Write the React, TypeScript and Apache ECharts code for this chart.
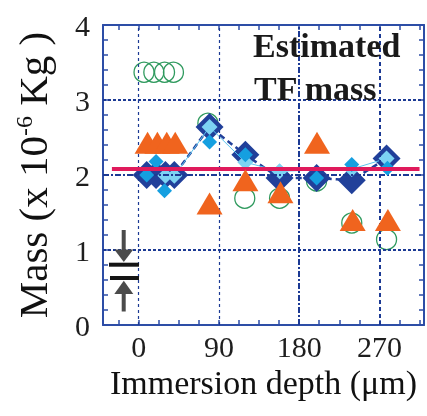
import React, { useEffect, useRef } from "react";
import * as echarts from "echarts";

// ---- data ----
const xTickValues = [-22.5, 0, 22.5, 45, 67.5, 90, 112.5, 135, 157.5, 180, 202.5, 225, 247.5, 270, 292.5, 315];
const xLabelValues = [0, 90, 180, 270];
const xGridValues = [0, 90, 180, 270];
const yGridValues = [1, 2, 3];

// green open circles
const circlePts = [
  [6, 3.37], [17, 3.37], [29, 3.37], [39, 3.37],
  [77.6, 2.69], [119, 1.69], [158, 1.69], [199.5, 1.92], [239, 1.36], [278, 1.14],
];
// orange triangles
const trianglePts = [
  [10, 2.43], [21, 2.43], [31.5, 2.43], [41, 2.43],
  [79.5, 1.62], [119.7, 1.93], [159, 1.77], [200, 2.43], [240, 1.4], [279.5, 1.4],
];
// dark blue diamonds
const darkPts = [
  [9, 2.0], [19.5, 2.0], [30, 2.0], [40, 2.0],
  [79.5, 2.64], [119.7, 2.27], [158, 1.96], [199.6, 1.96], [239, 1.93], [278, 2.22],
];
// light blue diamonds
const lightPts = [
  [30, 1.99], [40, 1.99], [79.5, 2.64], [119.7, 2.17], [158, 2.05], [239, 2.08], [278, 2.22],
];
// cyan diamonds
const cyanPts = [
  [9, 2.0], [19.5, 2.18], [29, 1.79], [79.5, 2.44], [119.7, 2.27], [199.6, 1.96], [239, 2.14], [279, 2.09],
];
// estimated mass line
const meanLine = [[-30, 2.08], [315, 2.08]];

const SERIF = '"Liberation Serif", "Times New Roman", serif';
const AXIS_BLUE = "#2d4da6";
const GRID_BLUE = "#1c3a94";

export default function App() {
  const ref = useRef<HTMLDivElement>(null);
  useEffect(() => {
    if (!ref.current) return;
    const chart = echarts.init(ref.current, undefined, { renderer: "svg" });

    const gridStyles: Record<string, any> = {
      x0: { width: 1.2, type: [3, 3] },
      x90: { width: 1.2, type: [3, 3] },
      x180: { width: 2, type: [6, 2, 2, 2] },
      x270: { width: 2, type: [4, 3] },
      y1: { width: 2, type: [3, 2] },
      y2: { width: 2.2, type: [6, 2, 2, 2] },
      y3: { width: 2, type: [3, 2] },
    };
    const markData: any[] = [
      ...xGridValues.map((v) => ({ xAxis: v, lineStyle: { color: GRID_BLUE, ...gridStyles["x" + v] } })),
      ...yGridValues.map((v) => ({ yAxis: v, lineStyle: { color: GRID_BLUE, ...gridStyles["y" + v] } })),
    ];

    const axisLine = { show: true, onZero: false, lineStyle: { color: AXIS_BLUE, width: 2 } };
    const tick = { show: true, inside: true, length: 5, lineStyle: { color: AXIS_BLUE, width: 1.5 } };

    chart.setOption({
      animation: false,
      grid: { left: 103, right: 3, top: 25, bottom: 91, containLabel: false, outerBoundsMode: "none" },
      xAxis: [
        {
          type: "value",
          min: -40,
          max: 320,
          position: "bottom",
          axisLine,
          axisTick: { ...tick, customValues: xTickValues },
          axisLabel: {
            customValues: xLabelValues,
            fontFamily: SERIF,
            fontSize: 30,
            color: "#1e1e1e",
            margin: 6,
          },
          splitLine: { show: false },
          name: "Immersion depth (μm)",
          nameLocation: "middle",
          nameGap: 27,
          nameTextStyle: { fontFamily: SERIF, fontSize: 34, color: "#111" },
        },
        {
          type: "value",
          min: -40,
          max: 320,
          position: "top",
          axisLine,
          axisTick: { ...tick, customValues: xTickValues },
          axisLabel: { show: false },
          splitLine: { show: false },
        },
      ],
      yAxis: [
        {
          type: "value",
          min: 0,
          max: 4,
          interval: 1,
          position: "left",
          axisLine,
          axisTick: tick,
          minorTick: { show: true, splitNumber: 5, length: 5, lineStyle: { color: AXIS_BLUE, width: 1.5 } },
          axisLabel: {
            fontFamily: SERIF,
            fontSize: 30,
            color: "#1e1e1e",
            margin: 13,
            padding: [0, 0, 10, 0],
          },
          splitLine: { show: false },
          name: "Mass (x 10{sup|-6} Kg )",
          nameLocation: "middle",
          nameGap: 50,
          nameRotate: 90,
          nameTextStyle: {
            fontFamily: SERIF,
            fontSize: 41,
            color: "#111",
            rich: {
              sup: { fontFamily: SERIF, fontSize: 24, color: "#111", verticalAlign: "top" },
            },
          },
        },
        {
          type: "value",
          min: 0,
          max: 4,
          interval: 1,
          position: "right",
          axisLine,
          axisTick: tick,
          minorTick: { show: true, splitNumber: 5, length: 5, lineStyle: { color: AXIS_BLUE, width: 1.5 } },
          axisLabel: { show: false },
          splitLine: { show: false },
        },
      ],
      series: [
        {
          name: "grid",
          type: "scatter",
          data: [],
          z: 1,
          silent: true,
          markLine: {
            silent: true,
            symbol: ["none", "none"],
            label: { show: false },
            data: markData,
          },
        },
        {
          name: "circles",
          type: "scatter",
          data: circlePts,
          z: 2,
          symbol: "circle",
          symbolSize: 20,
          itemStyle: { color: "rgba(0,0,0,0)", borderColor: "#2f9a5e", borderWidth: 1.3, opacity: 1 },
        },
        {
          name: "dark",
          type: "line",
          data: darkPts,
          z: 3,
          symbol: "diamond",
          symbolSize: 28,
          itemStyle: { color: "#21409a", borderWidth: 0, opacity: 1 },
          lineStyle: { color: "#21409a", width: 2.5, type: [6, 4] },
        },
        {
          name: "light",
          type: "line",
          data: lightPts,
          z: 4,
          symbol: "diamond",
          symbolSize: 16,
          itemStyle: { color: "#7dd3f3", borderWidth: 0, opacity: 1 },
          lineStyle: { color: "#5bc4ee", width: 1 },
        },
        {
          name: "cyan",
          type: "scatter",
          data: cyanPts,
          z: 5,
          symbol: "diamond",
          symbolSize: 15,
          itemStyle: { color: "#159fe0", borderWidth: 0, opacity: 1 },
        },
        {
          name: "estimated",
          type: "line",
          data: meanLine,
          z: 6,
          symbol: "none",
          lineStyle: { color: "#e01a5c", width: 4 },
        },
        {
          name: "triangles",
          type: "scatter",
          data: trianglePts,
          z: 7,
          symbol: "triangle",
          symbolSize: [26, 22],
          itemStyle: { color: "#f0641e", borderWidth: 0, opacity: 1 },
        },
      ],
      graphic: [
        {
          type: "text",
          x: 253,
          y: 45.5,
          z: 10,
          style: {
            text: "Estimated",
            fontFamily: SERIF,
            fontWeight: "bold",
            fontSize: 34,
            fill: "#1a1a1a",
            align: "left",
            verticalAlign: "middle",
          },
        },
        {
          type: "text",
          x: 254,
          y: 88.5,
          z: 10,
          style: {
            text: "TF mass",
            fontFamily: SERIF,
            fontWeight: "bold",
            fontSize: 34,
            fill: "#1a1a1a",
            align: "left",
            verticalAlign: "middle",
          },
        },
        { type: "rect", z: 10, shape: { x: 121.7, y: 230, width: 4, height: 21 }, style: { fill: "#4b4b4b" } },
        { type: "polygon", z: 10, shape: { points: [[114.3, 249.5], [133.3, 249.5], [123.8, 262]] }, style: { fill: "#4b4b4b" } },
        { type: "rect", z: 10, shape: { x: 109, y: 262.7, width: 30, height: 4 }, style: { fill: "#151515" } },
        { type: "rect", z: 10, shape: { x: 110, y: 276, width: 29, height: 4 }, style: { fill: "#151515" } },
        { type: "polygon", z: 10, shape: { points: [[114.3, 294], [133.3, 294], [123.8, 280.7]] }, style: { fill: "#4b4b4b" } },
        { type: "rect", z: 10, shape: { x: 121.7, y: 293.5, width: 4, height: 18 }, style: { fill: "#4b4b4b" } },
      ],
    });

    return () => chart.dispose();
  }, []);

  return <div ref={ref} style={{ position: "fixed", left: 0, top: 0, width: 427, height: 416 }} />;
}
